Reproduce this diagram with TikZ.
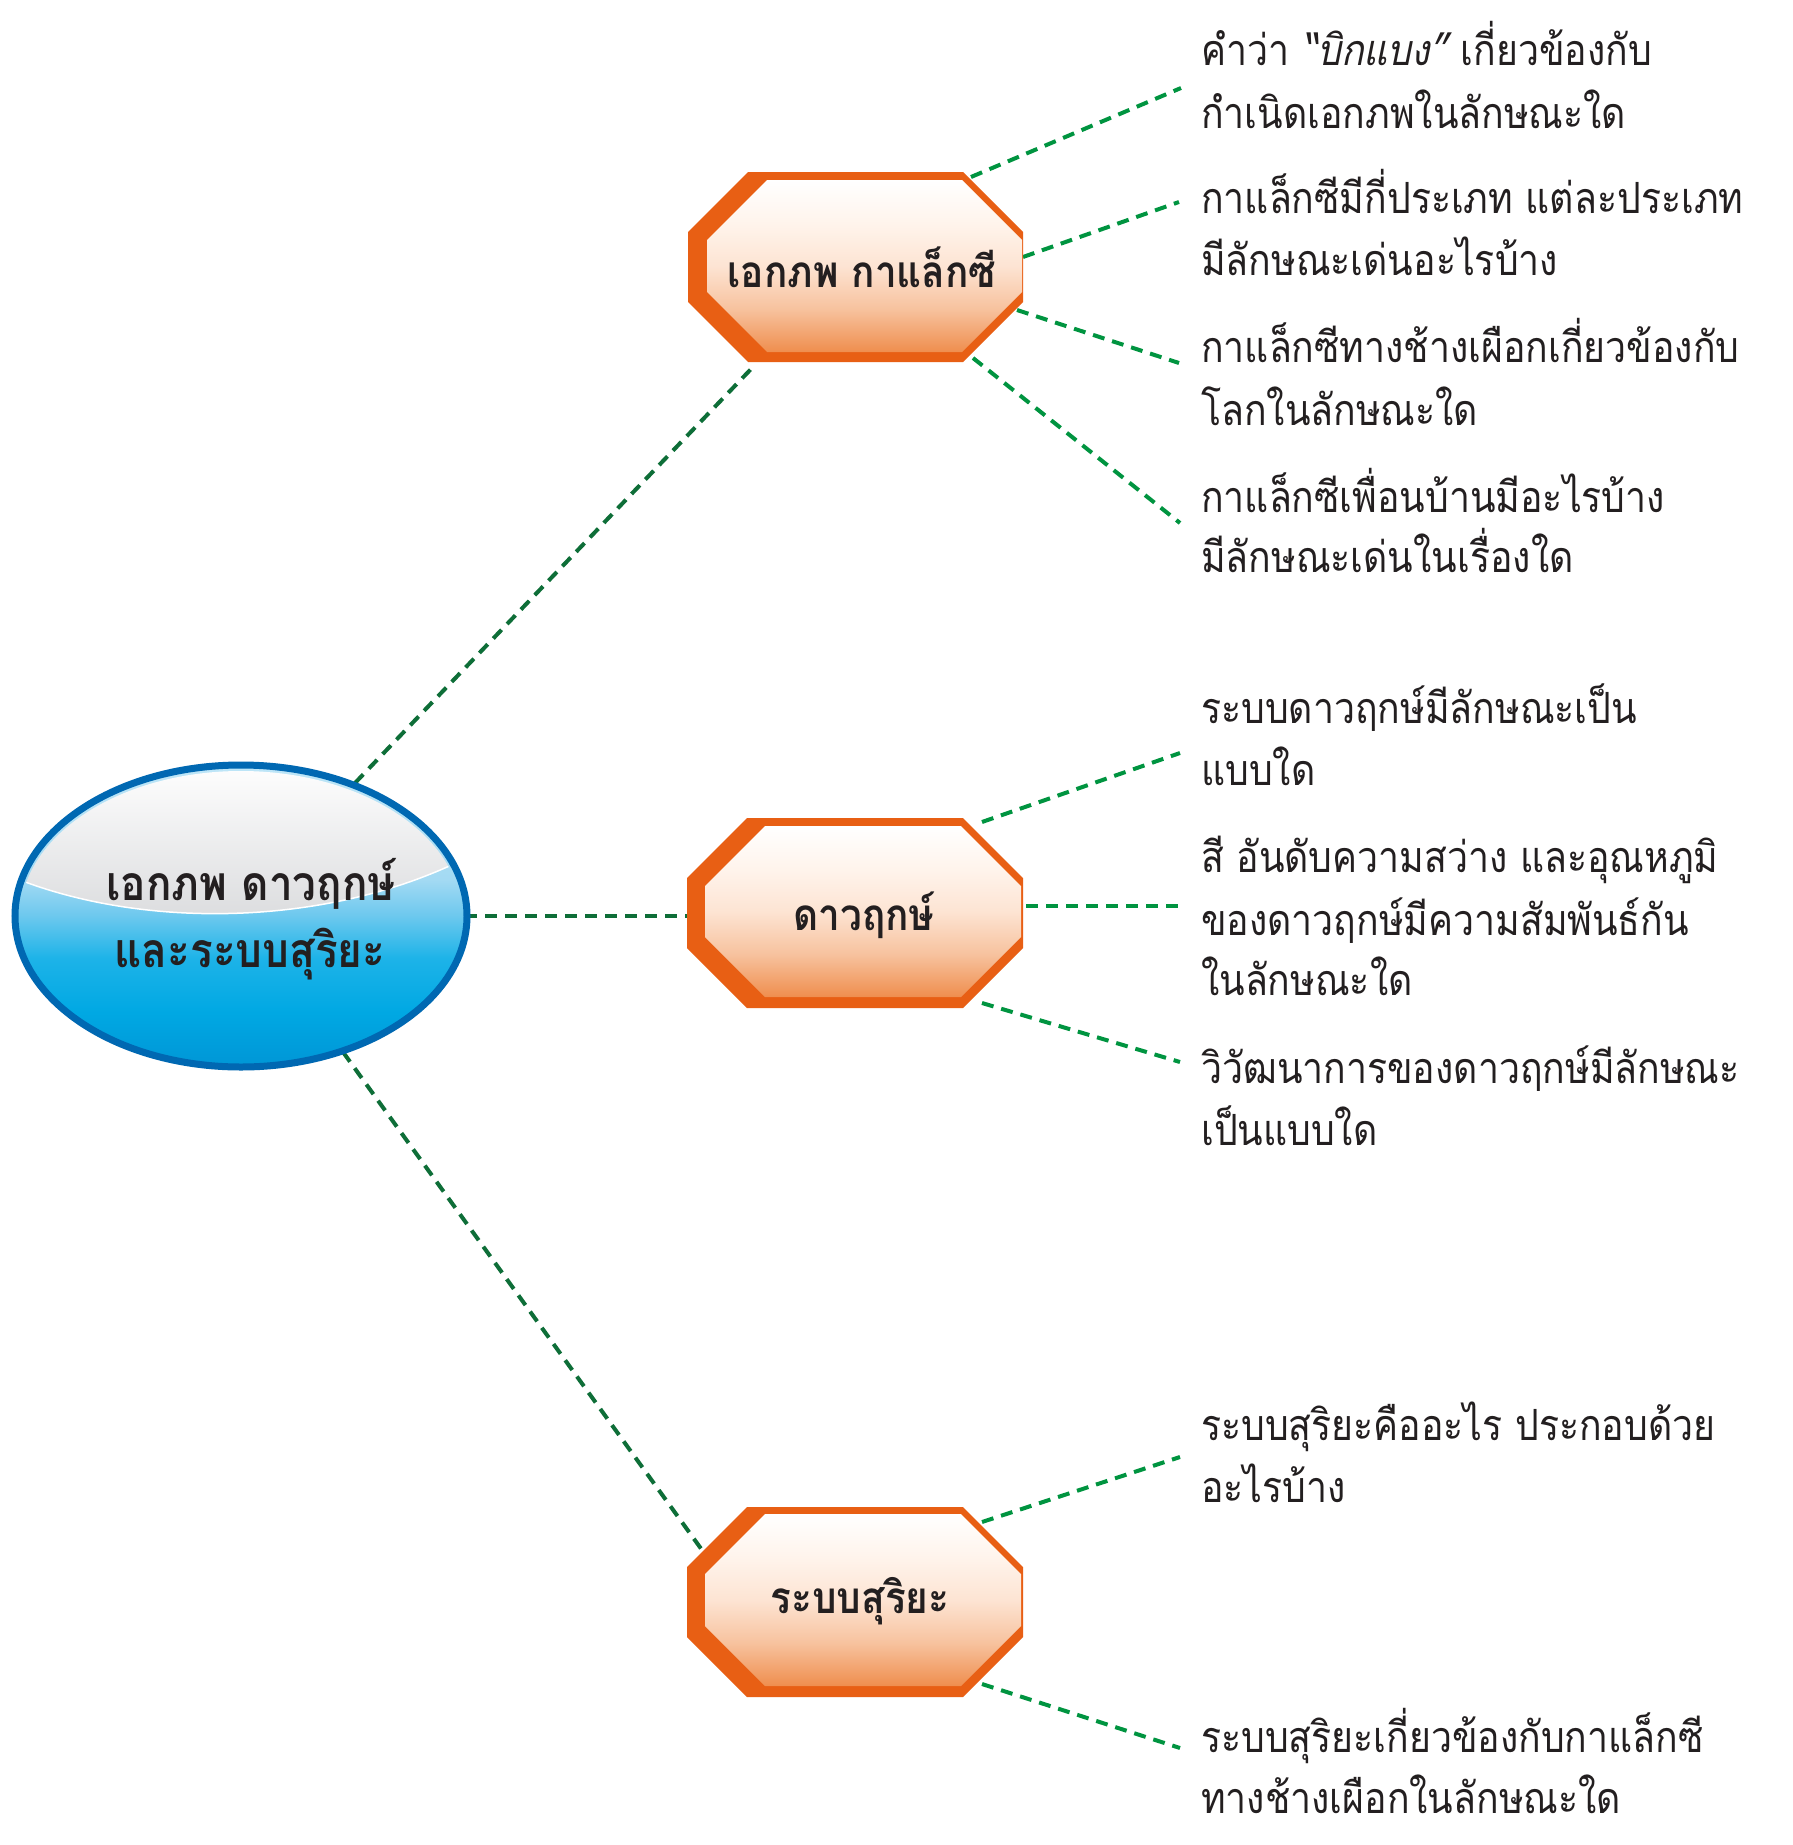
\documentclass[tikz,border=0pt]{standalone}
\usepackage{fontspec}
\newfontfamily\thaifont[Script=Thai,FakeStretch=0.87]{Loma}
\newfontfamily\thaiobl[Script=Thai,FakeStretch=0.87,FakeSlant=0.2]{Loma}
\newfontfamily\thaihead[Script=Thai,FakeStretch=0.88]{Loma}
\definecolor{octorange}{HTML}{E85F14}
\definecolor{oc1}{HTML}{FFFFFF}
\definecolor{oc2}{HTML}{FFF4EC}
\definecolor{oc3}{HTML}{FDE4D3}
\definecolor{oc4}{HTML}{F7C29E}
\definecolor{oc5}{HTML}{EF8E4E}
\definecolor{ellborder}{HTML}{0068B2}
\definecolor{eb1}{HTML}{BEE6F7}
\definecolor{eb2}{HTML}{A3DAF3}
\definecolor{eb3}{HTML}{6CC8EE}
\definecolor{eb4}{HTML}{1DB3E8}
\definecolor{eb5}{HTML}{00A8E3}
\definecolor{eb6}{HTML}{0096D6}
\definecolor{hlbot}{HTML}{D9DADC}
\definecolor{darkgreen}{HTML}{0E6E38}
\definecolor{brightgreen}{HTML}{009440}
\definecolor{txt}{HTML}{231F20}
\pgfdeclareverticalshading{ellshade}{100bp}{color(0bp)=(eb6); color(25bp)=(eb6); color(34bp)=(eb5); color(43bp)=(eb4); color(50bp)=(eb3); color(56bp)=(eb2); color(75bp)=(eb1); color(100bp)=(eb1)}
\pgfdeclareverticalshading{octshade}{100bp}{color(0bp)=(oc5); color(25bp)=(oc5); color(37.5bp)=(oc4); color(50bp)=(oc3); color(62.5bp)=(oc2); color(75bp)=(oc1); color(100bp)=(oc1)}
\begin{document}
\begin{tikzpicture}[x=1pt,y=-1pt,
  octp/.style n args={5}{insert path={(#1+#5,#2) -- (#3-#5,#2) -- (#3,#2+#5) -- (#3,#4-#5) -- (#3-#5,#4) -- (#1+#5,#4) -- (#1,#4-#5) -- (#1,#2+#5) -- cycle}},
  octouter/.style={fill=octorange},
  octinner/.style={shading=octshade},
  leftlink/.style={draw=darkgreen, line width=4pt, dash pattern=on 12pt off 8pt},
  rightlink/.style={draw=brightgreen, line width=4pt, dash pattern=on 12pt off 8pt},
  item/.style={anchor=base west, inner sep=0pt, text=txt, font=\thaifont\fontsize{43}{50}\selectfont},
  octlabel/.style={anchor=base, inner sep=0pt, text=txt, font=\thaihead\bfseries\fontsize{44}{52}\selectfont},
  rootlabel/.style={anchor=base, inner sep=0pt, text=txt, font=\thaihead\bfseries\fontsize{48}{56}\selectfont}
]
\useasboundingbox (0,0) rectangle (1793,1845);
\fill[white] (0,0) rectangle (1793,1845);

% connector end points
\coordinate (rootA) at (355,783);
\coordinate (rootB) at (465,916);
\coordinate (rootC) at (343,1052);
\coordinate (o1in) at (752,368);
\coordinate (o2in) at (687,916);
\coordinate (o3in) at (702,1550);
\coordinate (o1a) at (971,177);
\coordinate (o1b) at (1023,257);
\coordinate (o1c) at (1017,310);
\coordinate (o1d) at (973,358);
\coordinate (o2a) at (982,822);
\coordinate (o2b) at (1026,906);
\coordinate (o2c) at (982,1003);
\coordinate (o3a) at (982,1522);
\coordinate (o3b) at (982,1684);
\coordinate (e1) at (1181,88);
\coordinate (e2) at (1179,202);
\coordinate (e3) at (1179,363);
\coordinate (e4) at (1180,523);
\coordinate (e5) at (1180,753);
\coordinate (e6) at (1180,906);
\coordinate (e7) at (1180,1062);
\coordinate (e8) at (1180,1457);
\coordinate (e9) at (1180,1748);

% connectors
\draw[leftlink] (rootA) -- (o1in);
\draw[leftlink] (rootB) -- (o2in);
\draw[leftlink] (rootC) -- (o3in);
\draw[rightlink] (o1a) -- (e1);
\draw[rightlink] (o1b) -- (e2);
\draw[rightlink] (o1c) -- (e3);
\draw[rightlink] (o1d) -- (e4);
\draw[rightlink] (o2a) -- (e5);
\draw[rightlink] (o2b) -- (e6);
\draw[rightlink] (o2c) -- (e7);
\draw[rightlink] (o3a) -- (e8);
\draw[rightlink] (o3b) -- (e9);

% root ellipse
\path[shading=ellshade] (241,916) ellipse [x radius=226, y radius=151];
\begin{scope}
  \clip (241,917) ellipse [x radius=221, y radius=146];
  \path[top color=white, bottom color=hlbot] (20,880) .. controls (150,930) and (330,925) .. (462,860) -- (462,760) -- (20,760) -- cycle;
  \draw[white, line width=1.5pt] (20,880) .. controls (150,930) and (330,925) .. (462,860);
\end{scope}
\draw[ellborder, line width=7pt] (241,916) ellipse [x radius=226, y radius=151];
\node[rootlabel] (root) at (251,900) {เอกภพ ดาวฤกษ์};
\node[rootlabel] (root2) at (250,967) {และระบบสุริยะ};

% octagons
\path[octouter, octp={688}{172}{1023}{362}{60}];
\path[octinner, octp={707}{180}{1022}{352}{60}];
\path[octouter, octp={687}{818}{1023}{1008}{60}];
\path[octinner, octp={705}{826}{1021}{997}{60}];
\path[octouter, octp={687}{1507}{1023}{1697}{60}];
\path[octinner, octp={705}{1514}{1021}{1686}{60}];
\node[octlabel] (n1) at (862,287) {เอกภพ กาแล็กซี};
\node[octlabel] (n2) at (864,930) {ดาวฤกษ์};
\node[octlabel] (n3) at (860,1613) {ระบบสุริยะ};

% question texts
\node[item] (t1a) at (1201,65) {คำว่า {\thaiobl “บิกแบง”} เกี่ยวข้องกับ};
\node[item] (t1b) at (1201,128) {กำเนิดเอกภพในลักษณะใด};
\node[item] (t2a) at (1201,213) {กาแล็กซีมีกี่ประเภท แต่ละประเภท};
\node[item] (t2b) at (1201,275) {มีลักษณะเด่นอะไรบ้าง};
\node[item] (t3a) at (1201,362) {กาแล็กซีทางช้างเผือกเกี่ยวข้องกับ};
\node[item] (t3b) at (1201,425) {โลกในลักษณะใด};
\node[item] (t4a) at (1201,512) {กาแล็กซีเพื่อนบ้านมีอะไรบ้าง};
\node[item] (t4b) at (1201,572) {มีลักษณะเด่นในเรื่องใด};
\node[item] (t5a) at (1201,723) {ระบบดาวฤกษ์มีลักษณะเป็น};
\node[item] (t5b) at (1201,785) {แบบใด};
\node[item] (t6a) at (1201,872) {สี อันดับความสว่าง และอุณหภูมิ};
\node[item] (t6b) at (1201,935) {ของดาวฤกษ์มีความสัมพันธ์กัน};
\node[item] (t6c) at (1201,995) {ในลักษณะใด};
\node[item] (t7a) at (1201,1083) {วิวัฒนาการของดาวฤกษ์มีลักษณะ};
\node[item] (t7b) at (1201,1145) {เป็นแบบใด};
\node[item] (t8a) at (1201,1440) {ระบบสุริยะคืออะไร ประกอบด้วย};
\node[item] (t8b) at (1201,1502) {อะไรบ้าง};
\node[item] (t9a) at (1201,1752) {ระบบสุริยะเกี่ยวข้องกับกาแล็กซี};
\node[item] (t9b) at (1201,1813) {ทางช้างเผือกในลักษณะใด};
\end{tikzpicture}
\end{document}
